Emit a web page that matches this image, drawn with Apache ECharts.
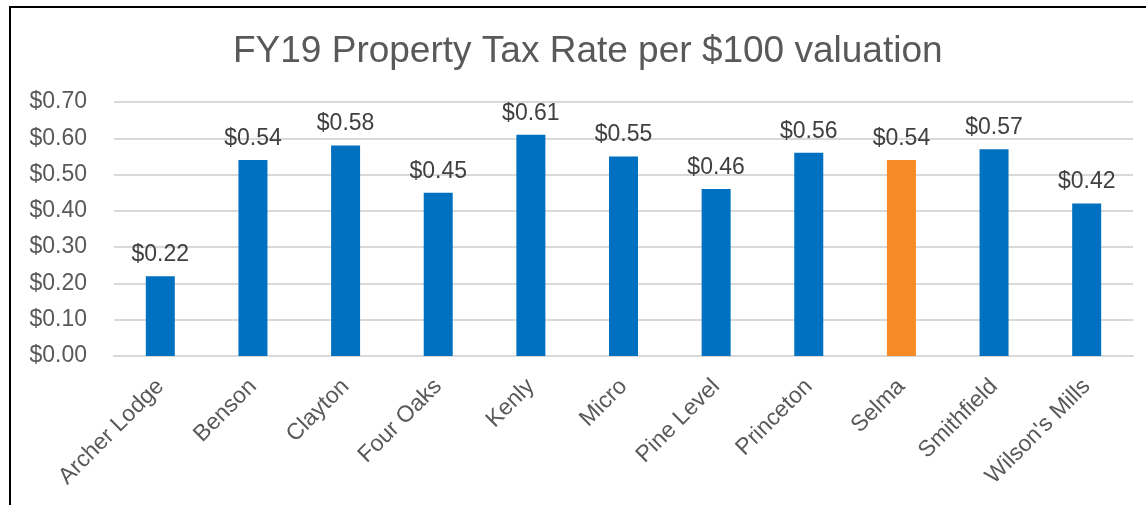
<!DOCTYPE html>
<html>
<head>
<meta charset="utf-8">
<script src="https://cdn.jsdelivr.net/npm/echarts@6/dist/echarts.min.js"></script>
<style>
  html, body { margin: 0; padding: 0; background: #fff; }
  #chart { width: 1146px; height: 505px; }
</style>
</head>
<body>
<div id="chart"></div>
<script>
const towns = ['Archer Lodge', 'Benson', 'Clayton', 'Four Oaks', 'Kenly', 'Micro',
  'Pine Level', 'Princeton', 'Selma', 'Smithfield', "Wilson's Mills"]
const rates = [0.22, 0.54, 0.58, 0.45, 0.61, 0.55, 0.46, 0.56, 0.54, 0.57, 0.42]
const highlight = 'Selma'

const blue = '#0070C0'
const orange = '#F68A24'
const font = '"Liberation Sans", Arial, sans-serif'

const myChart = echarts.init(document.getElementById('chart'))
const option = {
  animation: false,
  title: {
    text: 'FY19 Property Tax Rate per $100 valuation',
    left: 228,
    top: 28,
    textStyle: { fontFamily: font, fontSize: 37, fontWeight: 'normal', color: '#595959' }
  },
  graphic: [{
    type: 'rect',
    shape: { x: 10, y: 7, width: 1300, height: 700 },
    style: { fill: 'none', stroke: '#000', lineWidth: 2 },
    silent: true
  }],
  grid: { left: 114, right: 13, top: 102, bottom: 149 },
  xAxis: {
    type: 'category',
    data: towns,
    axisLine: { lineStyle: { color: '#d9d9d9', width: 2 } },
    axisTick: { show: false },
    axisLabel: {
      interval: 0,
      rotate: 45,
      margin: 27,
      fontFamily: font,
      fontSize: 23,
      color: '#595959'
    }
  },
  yAxis: {
    type: 'value',
    min: 0,
    max: 0.7,
    interval: 0.1,
    axisLabel: {
      fontFamily: font,
      fontSize: 23,
      color: '#595959',
      margin: 27,
      formatter: v => '$' + v.toFixed(2)
    },
    splitLine: { lineStyle: { color: '#d9d9d9', width: 2 } }
  },
  series: [{
    type: 'bar',
    barWidth: 29,
    data: rates.map((v, i) => ({
      value: v,
      itemStyle: { color: towns[i] === highlight ? orange : blue }
    })),
    label: {
      show: true,
      position: 'top',
      distance: 10,
      fontFamily: font,
      fontSize: 23,
      color: '#404040',
      formatter: p => '$' + p.value.toFixed(2)
    }
  }]
}
myChart.setOption(option)
</script>
</body>
</html>
